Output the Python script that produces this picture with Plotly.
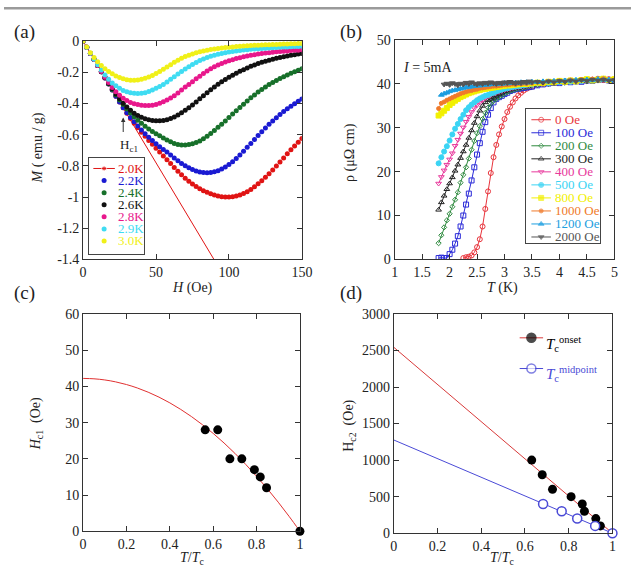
import plotly.graph_objects as go

FIG_W, FIG_H = 642, 587
SERIF = "Liberation Serif"
INK = "#222222"

# ---------------- panel (a): M vs H ----------------
H_field = [0, 2.5, 5, 7.5, 10, 12.5, 15, 17.5, 20, 22.5, 25, 27.5, 30, 32.5, 35, 37.5, 40, 42.5, 45, 47.5,
           50, 52.5, 55, 57.5, 60, 62.5, 65, 67.5, 70, 72.5, 75, 77.5, 80, 82.5, 85, 87.5, 90, 92.5, 95, 97.5,
           100, 102.5, 105, 107.5, 110, 112.5, 115, 117.5, 120, 122.5, 125, 127.5, 130, 132.5, 135, 137.5,
           140, 142.5, 145, 147.5, 150]
M_20K = [0, -0.039, -0.079, -0.118, -0.157, -0.196, -0.236, -0.275, -0.314, -0.353,
         -0.391, -0.428, -0.463, -0.496, -0.527, -0.556, -0.584, -0.611, -0.637, -0.662,
         -0.687, -0.711, -0.737, -0.761, -0.785, -0.81, -0.834, -0.857, -0.879, -0.899,
         -0.917, -0.933, -0.947, -0.959, -0.97, -0.979, -0.987, -0.993, -0.998, -1.0,
         -1.0, -0.998, -0.994, -0.987, -0.978, -0.966, -0.951, -0.934, -0.915, -0.895,
         -0.873, -0.85, -0.826, -0.801, -0.775, -0.749, -0.723, -0.697, -0.672, -0.648, -0.625]
M_22K = [0, -0.039, -0.079, -0.118, -0.157, -0.196, -0.236, -0.275, -0.314, -0.353,
         -0.391, -0.427, -0.46, -0.49, -0.518, -0.545, -0.57, -0.594, -0.617, -0.638,
         -0.658, -0.677, -0.695, -0.712, -0.73, -0.75, -0.768, -0.785, -0.8, -0.813,
         -0.824, -0.833, -0.839, -0.843, -0.845, -0.843, -0.838, -0.831, -0.821, -0.808,
         -0.792, -0.774, -0.753, -0.73, -0.706, -0.681, -0.656, -0.631, -0.606, -0.581,
         -0.557, -0.534, -0.512, -0.491, -0.471, -0.452, -0.434, -0.417, -0.401, -0.386, -0.372]
M_24K = [0, -0.039, -0.079, -0.118, -0.157, -0.196, -0.235, -0.273, -0.31, -0.345,
         -0.377, -0.407, -0.435, -0.461, -0.485, -0.507, -0.527, -0.546, -0.563, -0.579,
         -0.594, -0.607, -0.621, -0.634, -0.646, -0.656, -0.663, -0.667, -0.667, -0.663,
         -0.658, -0.65, -0.64, -0.626, -0.61, -0.592, -0.573, -0.553, -0.533, -0.512,
         -0.49, -0.468, -0.447, -0.426, -0.405, -0.384, -0.364, -0.345, -0.327, -0.31,
         -0.294, -0.279, -0.265, -0.252, -0.24, -0.228, -0.217, -0.206, -0.196, -0.187, -0.178]
M_26K = [0, -0.039, -0.079, -0.118, -0.157, -0.196, -0.234, -0.271, -0.306, -0.339,
         -0.37, -0.398, -0.423, -0.444, -0.462, -0.477, -0.489, -0.498, -0.505, -0.509,
         -0.511, -0.511, -0.509, -0.504, -0.496, -0.486, -0.474, -0.46, -0.444, -0.427,
         -0.409, -0.39, -0.37, -0.35, -0.331, -0.312, -0.294, -0.277, -0.261, -0.246,
         -0.232, -0.219, -0.206, -0.194, -0.183, -0.172, -0.162, -0.153, -0.144, -0.136,
         -0.129, -0.122, -0.116, -0.11, -0.105, -0.1, -0.096, -0.091, -0.087, -0.083, -0.08]
M_28K = [0, -0.039, -0.079, -0.118, -0.157, -0.195, -0.232, -0.266, -0.297, -0.324,
         -0.347, -0.366, -0.381, -0.393, -0.401, -0.407, -0.411, -0.413, -0.413, -0.411,
         -0.406, -0.399, -0.389, -0.377, -0.365, -0.35, -0.333, -0.314, -0.295, -0.278,
         -0.26, -0.242, -0.225, -0.208, -0.192, -0.178, -0.165, -0.153, -0.143, -0.134,
         -0.126, -0.119, -0.112, -0.106, -0.1, -0.095, -0.091, -0.087, -0.083, -0.08,
         -0.077, -0.074, -0.071, -0.069, -0.067, -0.065, -0.063, -0.061, -0.059, -0.058, -0.056]
M_29K = [0, -0.039, -0.078, -0.116, -0.152, -0.186, -0.217, -0.245, -0.268, -0.287,
         -0.303, -0.316, -0.325, -0.331, -0.335, -0.336, -0.335, -0.331, -0.323, -0.313,
         -0.303, -0.291, -0.278, -0.262, -0.245, -0.228, -0.211, -0.195, -0.179, -0.164,
         -0.15, -0.137, -0.125, -0.114, -0.105, -0.097, -0.09, -0.084, -0.079, -0.074,
         -0.07, -0.066, -0.063, -0.06, -0.057, -0.055, -0.053, -0.051, -0.049, -0.047,
         -0.045, -0.044, -0.042, -0.041, -0.039, -0.038, -0.037, -0.036, -0.035, -0.034, -0.033]
M_30K = [0, -0.038, -0.074, -0.105, -0.132, -0.156, -0.177, -0.195, -0.21, -0.223,
         -0.234, -0.242, -0.248, -0.251, -0.251, -0.249, -0.245, -0.238, -0.23, -0.22,
         -0.208, -0.195, -0.181, -0.166, -0.151, -0.136, -0.122, -0.11, -0.099, -0.09,
         -0.082, -0.075, -0.069, -0.063, -0.058, -0.054, -0.05, -0.047, -0.044, -0.041,
         -0.039, -0.037, -0.035, -0.033, -0.031, -0.03, -0.028, -0.027, -0.026, -0.025,
         -0.024, -0.023, -0.022, -0.021, -0.02, -0.019, -0.018, -0.017, -0.017, -0.016, -0.015]
temps_a = ["2.0K", "2.2K", "2.4K", "2.6K", "2.8K", "2.9K", "3.0K"]
colors_a = ["#e01414", "#1a1ad2", "#17702a", "#111111", "#e8188c", "#3fdcf2", "#f0f018"]
M_series = [M_20K, M_22K, M_24K, M_26K, M_28K, M_29K, M_30K]
lineA_H = [0, 89.7]          # linear (Meissner) line of the 2.0K curve
lineA_M = [0, -1.4]
M_ticks = [0, -0.2, -0.4, -0.6, -0.8, -1, -1.2, -1.4]
M_ticktext = ["0", "-0.2", "-0.4", "-0.6", "-0.8", "-1", "-1.2", "-1.4"]
Hc1_arrow_H, Hc1_arrow_M = 27.5, -0.49

# ---------------- panel (b): rho vs T ----------------
T_K = [1.8, 1.85, 1.9, 1.95, 2.0, 2.05, 2.1, 2.15, 2.2, 2.25,
       2.3, 2.35, 2.4, 2.45, 2.5, 2.55, 2.6, 2.65, 2.7, 2.75,
       2.8, 2.85, 2.9, 2.95, 3.0, 3.05, 3.1, 3.15, 3.2, 3.25,
       3.3, 3.35, 3.4, 3.45, 3.5,
       3.6, 3.7, 3.8, 3.9, 4.0, 4.1, 4.2, 4.3, 4.4, 4.5, 4.6, 4.7, 4.8, 4.9, 5.0]
rho_0 = [None, None, None, None, None, None, None, None, None, 0.3,
         0.5, 0.6, 0.9, 1.6, 2.8, 4.6, 7.5, 11.5, 15.5, 19.7,
         23.3, 26.1, 28.5, 30.3, 32.0, 33.6, 34.8, 35.8, 36.7, 37.4,
         38.0, 38.5, 38.9, 39.2, 39.4,
         39.8, 40.0, 40.2, 40.3, 40.5, 40.4, 40.7, 40.6, 40.8, 40.7, 41.0, 41.2, 40.9, 41.1, 41.0]
rho_100 = [0.3, 0.4, 0.3, 0.3, 1.2, 2.2, 3.6, 5.3, 7.5, 10.0,
           12.5, 15.0, 18.0, 21.0, 23.9, 26.5, 29.1, 31.3, 33.0, 34.5,
           35.8, 36.6, 37.0, 37.3, 37.7, 38.0, 38.4, 38.6, 38.8, 38.9,
           39.0, 39.1, 39.2, 39.3, 39.4,
           39.7, 39.9, 40.1, 40.3, 40.2, 40.5, 40.4, 40.6, 40.5, 40.8, 40.7, 40.9, 41.1, 40.8, 40.9]
rho_200 = [3.7, 5.5, 7.3, 8.9, 10.4, 12.0, 13.6, 15.3, 17.5, 19.3,
           21.0, 23.0, 25.0, 27.0, 28.8, 30.4, 32.0, 33.4, 34.6, 35.5,
           36.1, 36.6, 37.0, 37.4, 37.8, 38.1, 38.4, 38.6, 38.8, 38.9,
           39.1, 39.2, 39.3, 39.5, 39.6,
           39.8, 40.1, 40.0, 40.3, 40.4, 40.3, 40.6, 40.5, 40.7, 40.6, 40.9, 40.8, 41.0, 40.9, 41.1]
rho_300 = [11.3, 13.0, 14.5, 16.0, 17.3, 18.7, 20.2, 21.6, 23.1, 24.6,
           26.1, 27.7, 29.4, 31.1, 32.6, 33.9, 35.0, 35.8, 36.3, 36.6,
           36.9, 37.3, 37.7, 38.0, 38.3, 38.5, 38.7, 38.9, 39.0, 39.1,
           39.3, 39.4, 39.5, 39.6, 39.7,
           39.9, 40.0, 40.2, 40.1, 40.4, 40.5, 40.4, 40.7, 40.6, 40.8, 40.7, 41.0, 40.8, 41.0, 40.9]
rho_400 = [17.3, 18.8, 20.3, 21.6, 22.8, 24.2, 25.9, 27.3, 28.7, 30.1,
           31.4, 32.5, 33.6, 34.5, 35.2, 35.8, 36.3, 36.8, 37.2, 37.5,
           37.8, 38.0, 38.2, 38.4, 38.6, 38.8, 38.9, 39.1, 39.2, 39.3,
           39.4, 39.5, 39.6, 39.7, 39.8,
           40.0, 40.2, 40.1, 40.4, 40.3, 40.6, 40.5, 40.8, 40.6, 40.9, 40.8, 41.1, 40.9, 41.2, 41.0]
rho_500 = [21.9, 23.3, 24.6, 25.8, 27.1, 28.5, 29.8, 30.9, 32.0, 33.0,
           34.0, 34.7, 35.3, 35.8, 36.3, 36.7, 37.0, 37.3, 37.5, 37.8,
           38.0, 38.3, 38.5, 38.7, 38.9, 39.0, 39.2, 39.3, 39.4, 39.5,
           39.6, 39.7, 39.8, 39.9, 39.9,
           40.1, 40.3, 40.2, 40.5, 40.4, 40.6, 40.5, 40.8, 40.7, 40.9, 40.8, 41.0, 41.2, 40.9, 41.0]
rho_800 = [32.8, 33.3, 33.9, 34.5, 35.2, 35.7, 36.2, 36.6, 37.0, 37.3,
           37.6, 37.9, 38.1, 38.3, 38.5, 38.6, 38.8, 38.9, 39.0, 39.1,
           39.2, 39.3, 39.4, 39.5, 39.6, 39.7, 39.7, 39.8, 39.9, 39.9,
           40.0, 40.1, 40.0, 40.2, 40.1,
           40.3, 40.2, 40.5, 40.4, 40.7, 40.5, 40.8, 40.6, 40.9, 41.1, 40.8, 41.0, 41.2, 40.9, 41.1]
rho_1000 = [34.4, 35.6, 35.9, 36.3, 36.6, 36.9, 37.2, 37.5, 37.8, 38.0,
            38.2, 38.4, 38.5, 38.7, 38.8, 39.0, 39.1, 39.2, 39.3, 39.4,
            39.5, 39.5, 39.6, 39.7, 39.8, 39.8, 39.9, 40.0, 39.9, 40.1,
            40.0, 40.2, 40.1, 40.3, 40.2,
            40.4, 40.3, 40.6, 40.5, 40.7, 40.6, 40.9, 40.7, 41.0, 40.8, 41.1, 40.9, 41.2, 41.0, 40.9]
rho_1200 = [None, 37.5, 37.8, 38.0, 38.3, 38.5, 38.6, 38.8, 38.9, 39.1,
            39.2, 39.3, 39.4, 39.5, 39.6, 39.6, 39.7, 39.8, 39.8, 39.9,
            40.0, 39.9, 40.1, 40.0, 40.2, 40.1, 40.3, 40.2, 40.3, 40.2,
            40.4, 40.3, 40.4, 40.3, 40.5,
            40.4, 40.6, 40.5, 40.7, 40.6, 40.8, 40.7, 40.9, 40.8, 41.0, 40.8, 41.1, 40.9, 41.0, 40.8]
rho_2000 = [None, None, 39.9, 40.1, 39.8, 40.2, 40.0, 39.7, 40.1, 39.9,
            40.3, 40.0, 40.4, 40.1, 39.9, 40.2, 40.0, 40.3, 40.1, 40.4,
            40.2, 40.0, 40.3, 40.1, 40.4, 40.2, 40.5, 40.3, 40.1, 40.4,
            40.2, 40.5, 40.3, 40.6, 40.4,
            40.5, 40.3, 40.6, 40.4, 40.7, 40.5, 40.8, 40.6, 40.9, 40.7, 41.0, 40.8, 41.0, 40.7, 40.9]
fields_b = ["0 Oe", "100 Oe", "200 Oe", "300 Oe", "400 Oe", "500 Oe", "800 Oe", "1000 Oe", "1200 Oe", "2000 Oe"]
rho_series = [rho_0, rho_100, rho_200, rho_300, rho_400, rho_500, rho_800, rho_1000, rho_1200, rho_2000]
colors_b = ["#e8343c", "#2a2ad8", "#2e8a3e", "#222222", "#e8399c", "#3ad4f4", "#f2f000", "#f07a2a", "#1c9ee0", "#555555"]
symbols_b = ["circle-open", "square-open", "diamond-open", "triangle-up-open", "triangle-down-open",
             "circle", "square", "circle", "triangle-up", "triangle-down"]
sizes_b = [5, 5, 4, 5, 5, 5, 5, 4, 5, 5]

# ---------------- panel (c): Hc1 vs T/Tc ----------------
t_c = [0.563, 0.621, 0.677, 0.732, 0.79, 0.817, 0.846, 1.0]
Hc1 = [28, 28, 20, 20, 17, 15, 12, 0]
fitC_t = [0, 0.05, 0.1, 0.15, 0.2, 0.25, 0.3, 0.35, 0.4, 0.45, 0.5,
          0.55, 0.6, 0.65, 0.7, 0.75, 0.8, 0.85, 0.9, 0.95, 1.0]
fitC_H = [42.2, 42.09, 41.78, 41.25, 40.51, 39.56, 38.4, 37.03, 35.45, 33.65, 31.65,
          29.43, 27.01, 24.37, 21.52, 18.46, 15.19, 11.71, 8.02, 4.12, 0]

# ---------------- panel (d): Hc2 vs T/Tc ----------------
t_onset = [0.631, 0.679, 0.726, 0.811, 0.862, 0.872, 0.924, 0.945]
Hc2_onset = [1000, 800, 600, 500, 400, 300, 200, 100]
t_mid = [0.683, 0.768, 0.839, 0.921, 1.0]
Hc2_mid = [400, 300, 200, 100, 0]
fit_onset_t, fit_onset_H = [0, 1], [2545, 0]
fit_mid_t, fit_mid_H = [0, 1], [1276, 0]

# ---------------- helpers ----------------
def px(x):
    return x / FIG_W


def py(y):
    return 1 - y / FIG_H


def axis(dom, rng, **kw):
    d = dict(domain=dom, range=rng, showline=True, linecolor="#333", linewidth=1, mirror="ticks",
             ticks="inside", ticklen=5, tickwidth=1, tickcolor="#333", showgrid=False, zeroline=False,
             tickfont=dict(family=SERIF, size=14, color=INK), fixedrange=True)
    d.update(kw)
    return d


def hidden_axis(dom, box=False):
    return dict(domain=dom, range=[0, 1], showline=box, mirror=box, linecolor="#444", linewidth=1,
                ticks="", showticklabels=False, showgrid=False, zeroline=False, fixedrange=True)


fig = go.Figure()

# ---- (a) ----
fig.add_trace(go.Scatter(x=lineA_H, y=lineA_M, mode="lines", line=dict(color=colors_a[0], width=1),
                         xaxis="x", yaxis="y", hoverinfo="skip"))
for M, c in zip(M_series, colors_a):
    fig.add_trace(go.Scatter(x=H_field, y=M, mode="markers", marker=dict(size=5, color=c),
                             xaxis="x", yaxis="y"))

# ---- (b) ----
for rho, c, s, sz in zip(rho_series, colors_b, symbols_b, sizes_b):
    fig.add_trace(go.Scatter(x=T_K, y=rho, mode="lines+markers", connectgaps=False,
                             line=dict(color=c, width=1),
                             marker=dict(symbol=s, size=sz, color=c, line=dict(color=c, width=1)),
                             xaxis="x2", yaxis="y2"))

# ---- (c) ----
fig.add_trace(go.Scatter(x=fitC_t, y=fitC_H, mode="lines", line=dict(color="#e03030", width=1, shape="spline"),
                         xaxis="x3", yaxis="y3"))
fig.add_trace(go.Scatter(x=t_c, y=Hc1, mode="markers", marker=dict(size=9, color="#000"),
                         cliponaxis=False, xaxis="x3", yaxis="y3"))

# ---- (d) ----
fig.add_trace(go.Scatter(x=fit_onset_t, y=fit_onset_H, mode="lines", line=dict(color="#d83a3a", width=1),
                         xaxis="x4", yaxis="y4"))
fig.add_trace(go.Scatter(x=fit_mid_t, y=fit_mid_H, mode="lines", line=dict(color="#4a4ad6", width=1),
                         xaxis="x4", yaxis="y4"))
fig.add_trace(go.Scatter(x=t_onset, y=Hc2_onset, mode="markers", marker=dict(size=9, color="#000"),
                         cliponaxis=False, xaxis="x4", yaxis="y4"))
fig.add_trace(go.Scatter(x=t_mid, y=Hc2_mid, mode="markers",
                         marker=dict(size=9, color="white", line=dict(color="#4a4ad6", width=1.5)),
                         cliponaxis=False, xaxis="x4", yaxis="y4"))

annotations = []

# ---- legend (a): boxed, manual ----
LA = dict(l=87, r=143, t=155, b=253)
rows_a = [165.7 + 12.4 * i for i in range(len(temps_a))]
for i, (name, c) in enumerate(zip(temps_a, colors_a)):
    yy = (LA["b"] - rows_a[i]) / (LA["b"] - LA["t"])
    xm = (102.5 - LA["l"]) / (LA["r"] - LA["l"])
    if i == 0:
        x0 = (91.5 - LA["l"]) / (LA["r"] - LA["l"])
        x1 = (113.5 - LA["l"]) / (LA["r"] - LA["l"])
        fig.add_trace(go.Scatter(x=[x0, xm, x1], y=[yy] * 3, mode="lines+markers",
                                 line=dict(color=c, width=1), marker=dict(size=[0, 5, 0], color=c),
                                 xaxis="x5", yaxis="y5", hoverinfo="skip"))
    else:
        fig.add_trace(go.Scatter(x=[xm], y=[yy], mode="markers", marker=dict(size=5, color=c),
                                 xaxis="x5", yaxis="y5", hoverinfo="skip"))
    annotations.append(dict(xref="paper", yref="paper", x=px(115), y=py(rows_a[i]), xanchor="left",
                            yanchor="middle", showarrow=False, text=name,
                            font=dict(family=SERIF, size=13, color=c)))

# ---- legend (b): boxed, manual ----
LB = dict(l=534, r=610, t=105, b=242)
rows_b = [115.7 + 13.37 * i for i in range(len(fields_b))]
for i, (name, c, s, sz) in enumerate(zip(fields_b, colors_b, symbols_b, sizes_b)):
    yy = (LB["b"] - rows_b[i]) / (LB["b"] - LB["t"])
    x0 = (540 - LB["l"]) / (LB["r"] - LB["l"])
    xm = (550 - LB["l"]) / (LB["r"] - LB["l"])
    x1 = (560 - LB["l"]) / (LB["r"] - LB["l"])
    fig.add_trace(go.Scatter(x=[x0, xm, x1], y=[yy] * 3, mode="lines+markers",
                             line=dict(color=c, width=1),
                             marker=dict(symbol=s, size=[0, sz, 0], color=c, line=dict(color=c, width=1)),
                             xaxis="x6", yaxis="y6", hoverinfo="skip"))
    annotations.append(dict(xref="paper", yref="paper", x=px(562), y=py(rows_b[i]), xanchor="left",
                            yanchor="middle", showarrow=False, text=name,
                            font=dict(family=SERIF, size=13, color=c)))

# ---- legend (d): no box ----
LD = dict(l=520, r=560, t=330, b=380)
rows_d = [339.5, 371]
glyph_d = [("#d83a3a", "#000", "#000"), ("#4a4ad6", "white", "#4a4ad6")]
for i, (lc, fc, mc) in enumerate(glyph_d):
    yy = (LD["b"] - rows_d[i]) / (LD["b"] - LD["t"])
    x0 = (528 - LD["l"]) / (LD["r"] - LD["l"])
    xm = (540 - LD["l"]) / (LD["r"] - LD["l"])
    x1 = (552 - LD["l"]) / (LD["r"] - LD["l"])
    fig.add_trace(go.Scatter(x=[x0, xm, x1], y=[yy] * 3, mode="lines+markers",
                             line=dict(color=lc, width=1),
                             marker=dict(size=[0, 9, 0], color=fc, line=dict(color=mc, width=1.5)),
                             xaxis="x7", yaxis="y7", hoverinfo="skip"))
annotations.append(dict(xref="paper", yref="paper", x=px(553), y=py(346), xanchor="left", yanchor="middle",
                        showarrow=False, text="<i>T</i><sub>c</sub><sup>onset</sup>",
                        font=dict(family=SERIF, size=15, color="#000")))
annotations.append(dict(xref="paper", yref="paper", x=px(553), y=py(377), xanchor="left", yanchor="middle",
                        showarrow=False, text="<i>T</i><sub>c</sub><sup>midpoint</sup>",
                        font=dict(family=SERIF, size=15, color="#4a4ad6")))

# ---- titles, labels ----
def txt(x, y, text, size=14, angle=0, anchor="center", color=INK):
    annotations.append(dict(xref="paper", yref="paper", x=px(x), y=py(y), xanchor=anchor, yanchor="middle",
                            showarrow=False, text=text, textangle=angle,
                            font=dict(family=SERIF, size=size, color=color)))


txt(21, 26, "(a)", 19)
txt(355, 26, "(b)", 19)
txt(21, 293, "(c)", 19)
txt(355, 293, "(d)", 19)
txt(35, 145, "<i>M</i> ( emu / g)", 14, -90)
txt(193, 288, "<i>H</i> (Oe)", 14)
txt(354, 149, "ρ (μΩ cm)", 14, -90)
txt(510, 288, "<i>T</i> (K)", 14)
txt(33, 428, "<i>H</i><sub>c1</sub>  (Oe)", 14, -90)
txt(193, 566, "<i>T</i>/<i>T</i><sub>c</sub>", 14)
txt(353, 430, "H<sub>c2</sub>  (Oe)", 14, -90)
txt(510, 566, "<i>T</i>/<i>T</i><sub>c</sub>", 14)
txt(406, 62, "<i>I</i> = 5mA", 14, anchor="left")
txt(117, 142, "H<sub>c1</sub>", 13, anchor="left")

annotations.append(dict(xref="x", yref="y", x=Hc1_arrow_H, y=Hc1_arrow_M, ax=0, ay=16, axref="pixel",
                        ayref="pixel", showarrow=True, text="", arrowhead=2, arrowsize=0.9, arrowwidth=1,
                        arrowcolor="#333", standoff=0))

fig.update_layout(
    width=FIG_W, height=FIG_H, margin=dict(l=0, r=0, t=0, b=0),
    paper_bgcolor="white", plot_bgcolor="rgba(0,0,0,0)", showlegend=False,
    font=dict(family=SERIF, size=14, color=INK),
    xaxis=axis([px(81), px(305)], [0, 150], dtick=50, anchor="y"),
    yaxis=axis([py(259), py(35)], [-1.4, 0], tickvals=M_ticks, ticktext=M_ticktext, anchor="x"),
    xaxis2=axis([px(400), px(625)], [1, 5], dtick=0.5, anchor="y2"),
    yaxis2=axis([py(259), py(34)], [0, 50], dtick=10, anchor="x2"),
    xaxis3=axis([px(81), px(303)], [0, 1], dtick=0.2, anchor="y3"),
    yaxis3=axis([py(538), py(315)], [0, 60], dtick=10, anchor="x3"),
    xaxis4=axis([px(399), px(623)], [0, 1], dtick=0.2, anchor="y4"),
    yaxis4=axis([py(540), py(315)], [0, 3000], dtick=500, anchor="x4"),
    xaxis5=dict(hidden_axis([px(LA["l"]), px(LA["r"])], True), anchor="y5"),
    yaxis5=dict(hidden_axis([py(LA["b"]), py(LA["t"])], True), anchor="x5"),
    xaxis6=dict(hidden_axis([px(LB["l"]), px(LB["r"])], True), anchor="y6"),
    yaxis6=dict(hidden_axis([py(LB["b"]), py(LB["t"])], True), anchor="x6"),
    xaxis7=dict(hidden_axis([px(LD["l"]), px(LD["r"])]), anchor="y7"),
    yaxis7=dict(hidden_axis([py(LD["b"]), py(LD["t"])]), anchor="x7"),
    annotations=annotations,
    shapes=[dict(type="rect", xref="paper", yref="paper", x0=0, x1=1, y0=py(2.5), y1=1,
                 fillcolor="#9a9a9a", line=dict(width=0))],
)

fig.write_html("out.html")
